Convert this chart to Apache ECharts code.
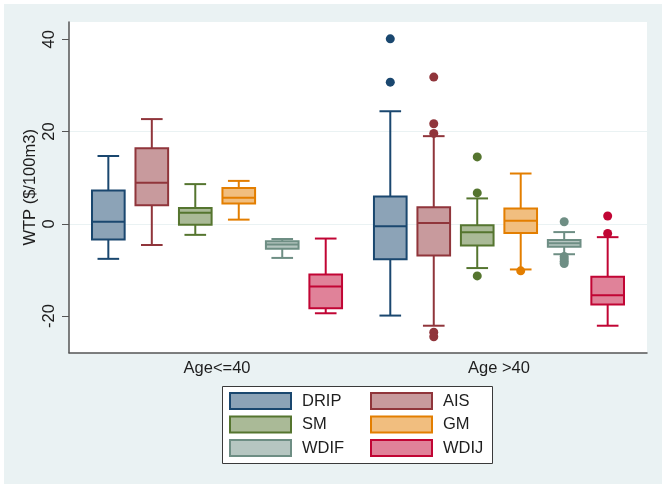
<!DOCTYPE html>
<html><head><meta charset="utf-8">
<script src="https://cdn.jsdelivr.net/npm/echarts@6/dist/echarts.min.js"></script>
<style>
html,body{margin:0;padding:0;background:#fff;}
#c{width:662px;height:484px;background:linear-gradient(#EAF2F3,#EAF2F3) no-repeat 4px 4px / 658px 480px, #fff;}
</style></head><body><div id="c"></div>
<script>
const groups = ['Age<=40', 'Age >40'];
const seriesNames = ['DRIP', 'AIS', 'SM', 'GM', 'WDIF', 'WDIJ'];
const yTicks = [-20, 0, 20, 40];

// [min, Q1, median, Q3, max] for each group (Age<=40, Age >40)
const DRIP = [[-7.6, -3.4, 0.45, 7.2, 14.7], [-19.9, -7.7, -0.55, 5.9, 24.4]];
const AIS  = [[-4.6, 4.0, 8.9, 16.4, 22.7], [-22.1, -6.9, 0.15, 3.6, 19.0]];
const SM   = [[-2.4, -0.2, 2.4, 3.4, 8.6], [-9.6, -4.7, -1.85, -0.3, 5.5]];
const GM   = [[0.9, 4.4, 5.65, 7.75, 9.3], [-9.9, -2.0, 0.65, 3.3, 10.9]];
const WDIF = [[-7.4, -5.4, -4.5, -3.8, -3.3], [-6.6, -5.0, -4.2, -3.5, -1.8]];
const WDIJ = [[-19.4, -18.3, -13.6, -11.0, -3.2], [-22.1, -17.5, -15.5, -11.5, -2.9]];

// outside values for each group
const DRIP_out = [[], [40.1, 30.7]];
const AIS_out  = [[], [31.8, 21.7, 19.6, -23.5, -24.5]];
const SM_out   = [[], [14.5, 6.7, -11.3]];
const GM_out   = [[], [-10.2]];
const WDIF_out = [[], [0.45, -7.1, -7.6, -8.1, -8.6]];
const WDIJ_out = [[], [1.7, -2.1]];

const boxes = [DRIP, AIS, SM, GM, WDIF, WDIJ];
const outs = [DRIP_out, AIS_out, SM_out, GM_out, WDIF_out, WDIJ_out];

const strokes = ['#1A476F', '#90353B', '#55752F', '#E37E00', '#6E8E84', '#C10534'];
const fills   = ['#8CA3B7', '#C89A9D', '#AABA97', '#F1BE7F', '#B6C6C1', '#E08299'];

const SPACING = 0.1542; // box spacing within a group, in group units
const BOXW = 0.1158;
const CAPW = 0.0767;
const FONT = 'Liberation Sans, Arial, Helvetica, sans-serif';
const TXT = '#1e1e1e';

function makeRender(idx) {
  return function (params, api) {
    const g = api.value(0);
    const unit = api.size([1, 0])[0];
    const cx = api.coord([g, 0])[0] + (idx - 2.5) * SPACING * unit;
    const y = i => api.coord([g, api.value(i)])[1];
    const yMin = y(1), yQ1 = y(2), yMed = y(3), yQ3 = y(4), yMax = y(5);
    const hw = BOXW * unit / 2, cw = CAPW * unit / 2;
    const ls = { stroke: strokes[idx], lineWidth: 2 };
    return {
      type: 'group',
      children: [
        { type: 'line', shape: { x1: cx, y1: yQ3, x2: cx, y2: yMax }, style: ls },
        { type: 'line', shape: { x1: cx, y1: yQ1, x2: cx, y2: yMin }, style: ls },
        { type: 'line', shape: { x1: cx - cw, y1: yMax, x2: cx + cw, y2: yMax }, style: ls },
        { type: 'line', shape: { x1: cx - cw, y1: yMin, x2: cx + cw, y2: yMin }, style: ls },
        { type: 'rect', shape: { x: cx - hw, y: yQ3, width: 2 * hw, height: yQ1 - yQ3 },
          style: { fill: fills[idx], stroke: strokes[idx], lineWidth: 2 } },
        { type: 'line', shape: { x1: cx - hw, y1: yMed, x2: cx + hw, y2: yMed }, style: ls }
      ]
    };
  };
}

const series = [];
seriesNames.forEach((name, idx) => {
  series.push({
    name: name,
    type: 'custom',
    z: 3,
    renderItem: makeRender(idx),
    encode: { x: 0, y: [1, 2, 3, 4, 5] },
    itemStyle: { color: fills[idx], borderColor: strokes[idx] },
    data: boxes[idx].map((b, gi) => [gi + 1].concat(b))
  });
});
seriesNames.forEach((name, idx) => {
  const pts = [];
  outs[idx].forEach((vals, gi) => {
    vals.forEach(v => pts.push([gi + 1 + (idx - 2.5) * SPACING, v]));
  });
  series.push({
    name: name,
    type: 'scatter',
    z: 4,
    symbol: 'circle',
    symbolSize: 9,
    itemStyle: { color: strokes[idx], opacity: 1 },
    data: pts
  });
});

function legendData(list) {
  return list.map(n => {
    const i = seriesNames.indexOf(n);
    return { name: n, itemStyle: { color: fills[i], borderColor: strokes[i], borderWidth: 2 } };
  });
}
const legendCommon = {
  orient: 'vertical', top: 392, itemWidth: 61, itemHeight: 16, itemGap: 5.5, padding: 0,
  icon: 'rect', selectedMode: false,
  textStyle: { fontSize: 16.5, fontFamily: FONT, color: TXT, lineHeight: 16, padding: [0, 0, 0, 6] }
};

const chart = echarts.init(document.getElementById('c'), null, { renderer: 'canvas' });
chart.setOption({
  backgroundColor: 'transparent',
  animation: false,
  textStyle: { fontFamily: FONT },
  grid: { left: 69, top: 22, width: 578, height: 330.7, show: true, backgroundColor: '#ffffff', borderWidth: 0 },
  graphic: [{
    type: 'rect', z: 1, shape: { x: 222.5, y: 386.5, width: 270, height: 77 },
    style: { fill: '#ffffff', stroke: '#3a3a3a', lineWidth: 1 }
  }],
  legend: [
    Object.assign({ left: 229, data: legendData(['DRIP', 'SM', 'WDIF']) }, legendCommon),
    Object.assign({ left: 370, data: legendData(['AIS', 'GM', 'WDIJ']) }, legendCommon)
  ],
  xAxis: {
    type: 'value', min: 0.475, max: 2.525,
    axisLine: { show: true, onZero: false, lineStyle: { color: '#555555', width: 1.5 } },
    axisTick: { show: false },
    splitLine: { show: false },
    axisLabel: {
      customValues: [1, 2], margin: 7, fontSize: 16.5, color: TXT, fontFamily: FONT,
      formatter: v => groups[Math.round(v) - 1]
    }
  },
  yAxis: {
    type: 'value', min: -27.95, max: 43.75, splitNumber: 3,
    name: 'WTP ($/100m3)', nameLocation: 'middle', nameGap: 30, nameRotate: 90,
    nameMoveOverlap: false,
    nameTextStyle: { fontSize: 16.5, color: TXT, fontFamily: FONT },
    axisLine: { show: true, onZero: false, lineStyle: { color: '#555555', width: 1.5 } },
    axisTick: { show: true, length: 7, customValues: yTicks, lineStyle: { color: '#555555', width: 1 } },
    axisLabel: { customValues: yTicks, rotate: 90, margin: 11, fontSize: 16.5, color: TXT, fontFamily: FONT },
    splitLine: { show: true, showMinLine: false, showMaxLine: false, lineStyle: { color: '#EAF2F3', width: 1.2 } }
  },
  series: series
});
</script></body></html>
